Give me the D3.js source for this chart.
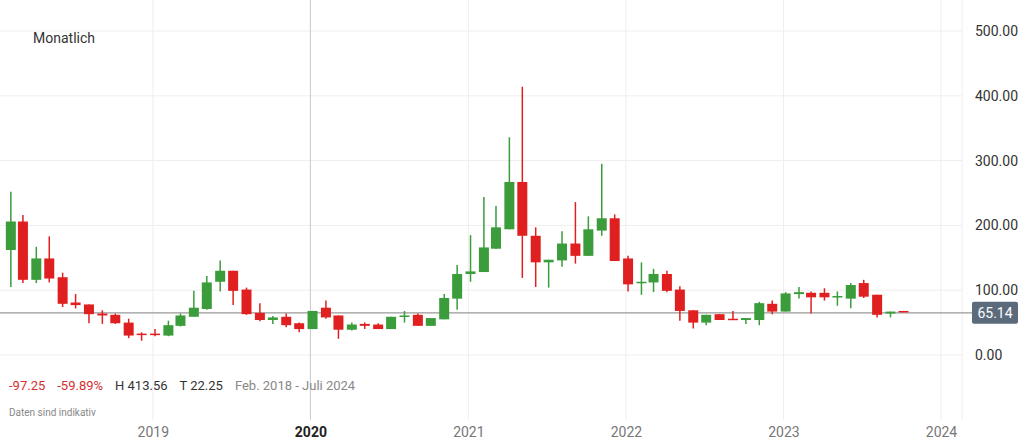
<!DOCTYPE html><html><head><meta charset="utf-8">
<script src="https://cdn.jsdelivr.net/npm/d3@7"></script>
<style>body{margin:0;background:#fff;font-family:Roboto,"Noto Sans",sans-serif}</style></head><body>
<svg id="c" width="1024" height="442"></svg>
<script>
const months=["2018-02","2018-03","2018-04","2018-05","2018-06","2018-07","2018-08","2018-09","2018-10","2018-11","2018-12","2019-01","2019-02","2019-03","2019-04","2019-05","2019-06","2019-07","2019-08","2019-09","2019-10","2019-11","2019-12","2020-01","2020-02","2020-03","2020-04","2020-05","2020-06","2020-07","2020-08","2020-09","2020-10","2020-11","2020-12","2021-01","2021-02","2021-03","2021-04","2021-05","2021-06","2021-07","2021-08","2021-09","2021-10","2021-11","2021-12","2022-01","2022-02","2022-03","2022-04","2022-05","2022-06","2022-07","2022-08","2022-09","2022-10","2022-11","2022-12","2023-01","2023-02","2023-03","2023-04","2023-05","2023-06","2023-07","2023-08","2023-09","2023-10"];
const open=[162,206,116,149,120,81,78,64,62,50,33,33,30,45,59,71,113,130,101,65,54,59,49,40,73,61,39,48,47,40,60,62,45,55,87,125,128,164,194,267,184,143,146,172,153,192,211,149,111,112,125,101,69,50,63,56,54,54,79,67,94,96,96,89,87,111,93,64,68];
const close=[206,116,149,118,79,77,63,61,49,30,31,31,46,61,73,112,130,99,63,54,58,46,40,68,58,39,47,45,40,59,61,45,57,88,125,129,166,197,267,184,143,147,172,153,194,211,145,109,113,125,99,68,50,62,54,54,57,80,67,95,97,89,89,91,108,90,62,67,66];
const high=[252,216,167,183,127,94,78,69,64,56,35,40,53,64,99,122,146,130,104,80,60,64,50,68,84,61,50,50,49,59,68,64,57,94,139,185,244,230,336,414,197,147,191,236,214,295,217,153,143,133,130,106,69,62,63,68,57,82,84,97,105,98,103,98,111,116,93,67,68];
const low=[105,111,111,112,74,72,49,48,48,26,22,29,29,44,59,70,98,77,62,52,48,43,35,40,56,25,38,40,40,40,50,45,45,55,70,113,128,164,194,119,105,104,136,141,153,184,145,98,93,97,97,53,41,46,54,54,48,46,63,67,87,64,84,76,72,88,58,58,66];
const yTicks=[0,100,200,300,400,500];
const yearTicks=[2019,2020,2021,2022,2023,2024];
const last=65.14;

const svg=d3.select("#c");
const x=d3.scaleTime().domain([new Date(2018,0,1),new Date(2024,0,1)]).range([-4.7,941]);
const y=d3.scaleLinear().domain([0,500]).range([355,31]);
const parse=d3.timeParse("%Y-%m");
const data=months.map((m,i)=>({d:d3.timeDay.offset(parse(m),5),o:open[i],c:close[i],h:high[i],l:low[i]}));

svg.append("g").selectAll("line").data(yTicks).join("line")
 .attr("x1",0).attr("x2",962).attr("y1",d=>y(d)).attr("y2",d=>y(d)).attr("stroke","#eeeeee");
svg.append("g").selectAll("line").data(yearTicks).join("line")
 .attr("x1",d=>x(new Date(d,0,1))).attr("x2",d=>x(new Date(d,0,1))).attr("y1",0).attr("y2",420)
 .attr("stroke",d=>d===2020?"#c8c8c8":"#eeeeee");
svg.append("line").attr("x1",962).attr("x2",962).attr("y1",0).attr("y2",420).attr("stroke","#eeeeee");
const ya=d3.axisRight(y).tickValues(yTicks).tickFormat(d3.format(".2f")).tickSize(0);
svg.append("g").attr("transform","translate(972,0)").call(ya).call(g=>g.select(".domain").remove())
 .selectAll("text").attr("font-size",14).attr("fill","#333").attr("font-family","Roboto");
const xa=d3.axisBottom(x).tickValues(yearTicks.map(v=>new Date(v,0,1))).tickFormat(d3.timeFormat("%Y")).tickSize(0);
svg.append("g").attr("transform","translate(0,424)").call(xa).call(g=>g.select(".domain").remove())
 .selectAll("text").attr("font-size",14).attr("fill",d=>d.getFullYear()===2020?"#222":"#777")
 .attr("font-weight",d=>d.getFullYear()===2020?"bold":"normal").attr("font-family","Roboto");
svg.append("line").attr("x1",0).attr("x2",972).attr("y1",y(last)).attr("y2",y(last)).attr("stroke","#999").attr("stroke-width",1.2);
svg.append("rect").attr("x",972).attr("y",y(last)-11).attr("width",46).attr("height",22).attr("rx",2).attr("fill","#5b6b7b");
svg.append("text").attr("x",995).attr("y",y(last)+5).attr("text-anchor","middle").attr("fill","#fff").attr("font-size",14).text(d3.format(".2f")(last));
const up="#3a9c3a",dn="#e02020",bw=10;
const g=svg.append("g");
data.forEach(d=>{
 const cx=x(d.d), col=d.c>=d.o?up:dn;
 g.append("line").attr("x1",cx).attr("x2",cx).attr("y1",y(d.h)).attr("y2",y(d.l)).attr("stroke",col).attr("stroke-width",1.5);
 const t=y(Math.max(d.o,d.c)),b=y(Math.min(d.o,d.c));
 g.append("rect").attr("x",cx-bw/2).attr("y",t).attr("width",bw).attr("height",Math.max(1.5,b-t)).attr("fill",col);
});
svg.append("text").attr("x",33).attr("y",43).attr("font-size",14).attr("fill","#333").text("Monatlich");
const info=svg.append("text").attr("x",9).attr("y",390).attr("font-size",13);
info.append("tspan").attr("fill","#d32f2f").text("-97.25");
info.append("tspan").attr("dx",12).attr("fill","#d32f2f").text("-59.89%");
info.append("tspan").attr("dx",12).attr("fill","#333").text("H 413.56");
info.append("tspan").attr("dx",12).attr("fill","#333").text("T 22.25");
info.append("tspan").attr("dx",12).attr("fill","#888").text("Feb. 2018 - Juli 2024");
svg.append("text").attr("x",9).attr("y",416).attr("font-size",10).attr("fill","#888").text("Daten sind indikativ");
</script></body></html>
